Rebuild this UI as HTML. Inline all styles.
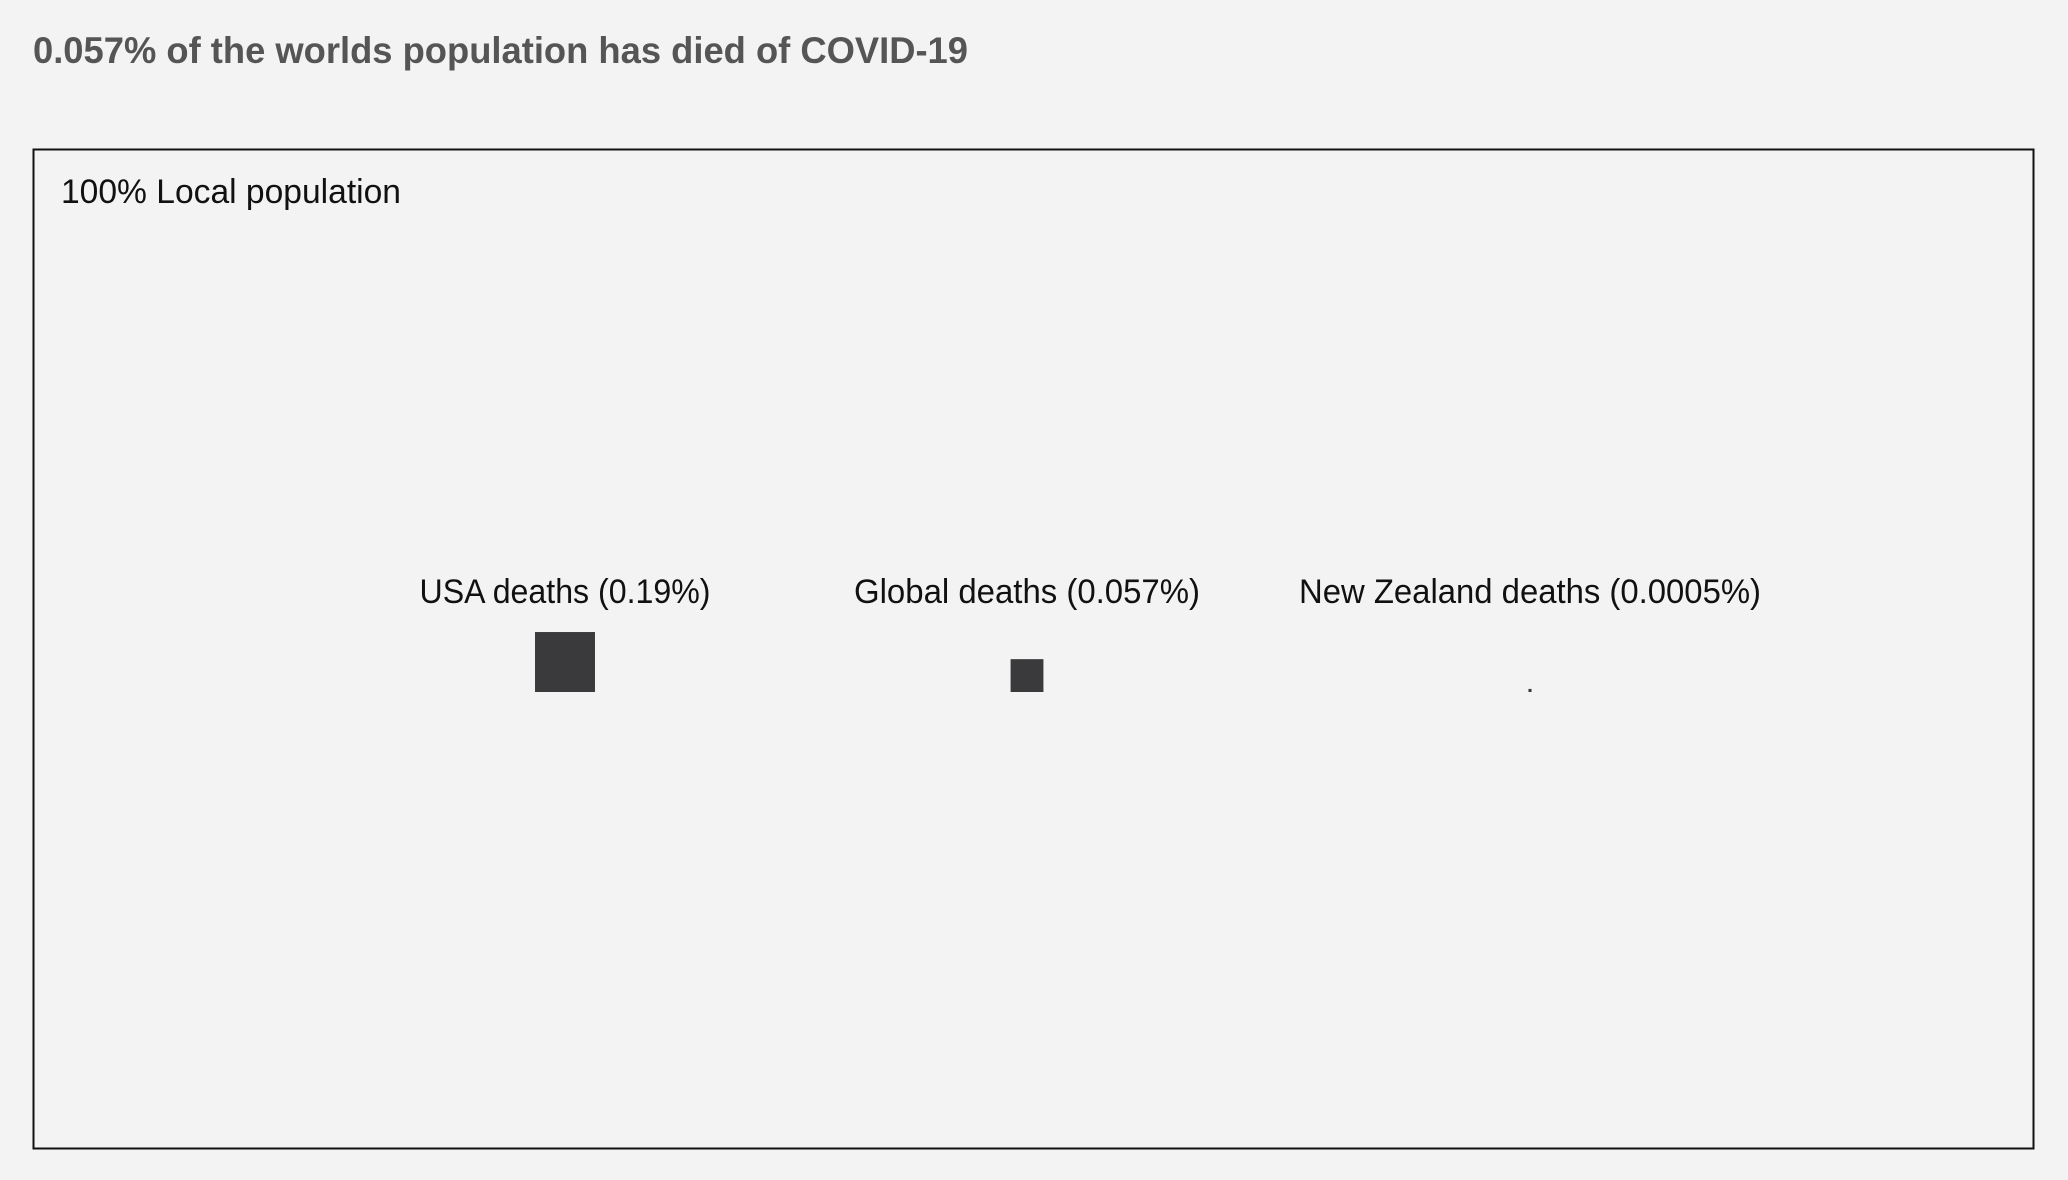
<!DOCTYPE html>
<html><head><meta charset="utf-8"><style>
html,body{margin:0;padding:0;background:#f3f3f3;}
svg{display:block;font-family:"Liberation Sans",sans-serif;}
</style></head><body>
<svg width="2068" height="1180" viewBox="0 0 2068 1180">
<rect x="0" y="0" width="2068" height="1180" fill="#f3f3f3"/>
<text x="33" y="63" font-size="37" font-weight="bold" fill="#555" textLength="935" lengthAdjust="spacingAndGlyphs">0.057% of the worlds population has died of COVID-19</text>
<rect x="33.5" y="149.5" width="2000" height="999" fill="none" stroke="#111" stroke-width="2"/>
<text x="61" y="203" font-size="34" fill="#111" textLength="340" lengthAdjust="spacingAndGlyphs">100% Local population</text>
<g id="marks"></g>
</svg>
<script>
const categories = ["USA deaths (0.19%)", "Global deaths (0.057%)", "New Zealand deaths (0.0005%)"];
const percents = [0.19, 0.057, 0.0005];
const names = ["usa", "global", "new-zealand"];
const labelWidths = [291, 346, 462];
const centers = [565, 1027, 1530];
const baseY = 692, k = 137.6;
function sideOf(p){ return k*Math.sqrt(p); }
const g = document.getElementById('marks');
const NS = "http://www.w3.org/2000/svg";
categories.forEach((c,i)=>{
  const s = Math.max(sideOf(percents[i]), 2);
  const r = document.createElementNS(NS,'rect');
  r.setAttribute('x', centers[i]-s/2);
  r.setAttribute('y', baseY-s);
  r.setAttribute('width', s);
  r.setAttribute('height', s);
  r.setAttribute('fill', '#3a3a3c');
  
  
  g.appendChild(r);
  const t = document.createElementNS(NS,'text');
  t.setAttribute('x', centers[i]-labelWidths[i]/2);
  t.setAttribute('y', 603);
  t.setAttribute('font-size', '34');
  t.setAttribute('fill', '#111');
  t.setAttribute('textLength', labelWidths[i]);
  t.setAttribute('lengthAdjust', 'spacingAndGlyphs');
  t.textContent = c;
  
  
  g.appendChild(t);
});
</script>
</body></html>
